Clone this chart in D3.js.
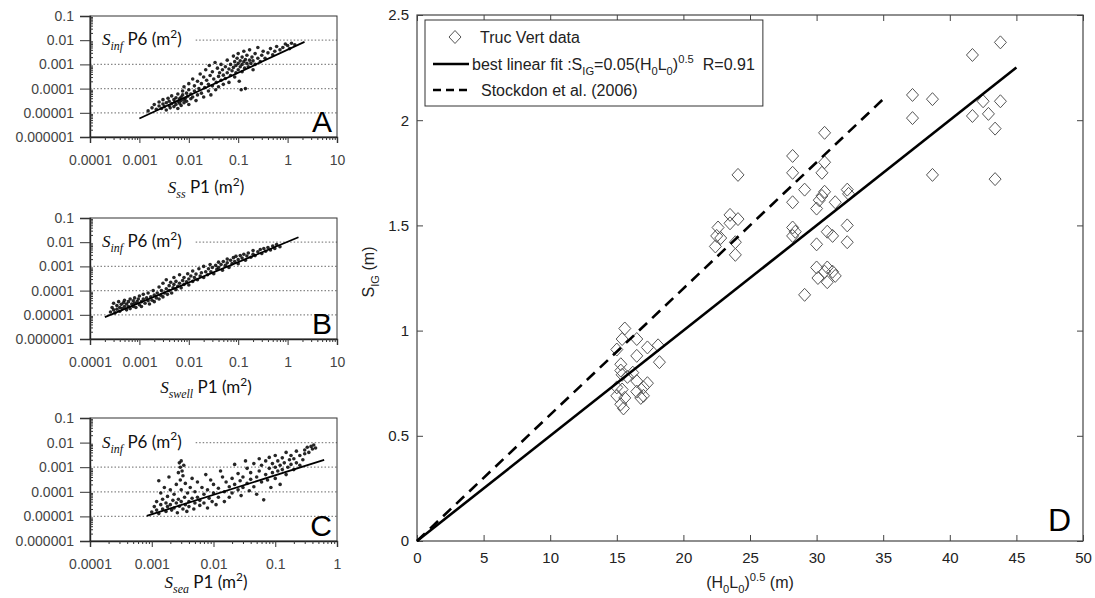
<!DOCTYPE html>
<meta charset="utf-8">
<style>
body { margin: 0; background: #fff; }
svg { display: block; font-family: "Liberation Sans", Arial, sans-serif; }
.small .tick text { font-size: 14px; fill: #444; }
.small .domain { stroke: #222; }
.small .tick line { stroke: #333; }
.big .tick text { font-size: 15px; fill: #222; }
.big .domain { display: none; }
.big .tick line { stroke: #444; }
</style>
<svg id="fig" width="1095" height="598"></svg>

<script src="https://d3js.org/d3.v7.min.js"></script>
<script>
// ********** DATA **********

// panel A : S_inf P6 against S_ss P1 (m2)
var ssPoints = [
  [0.0015,1.2e-5],[0.0018,1.6e-5],[0.002,2.2e-5],[0.0022,1.4e-5],[0.0025,1.9e-5],[0.0025,2.8e-5],[0.0028,1.5e-5],
  [0.003,2.3e-5],[0.003,3.5e-5],[0.0032,1.8e-5],[0.0035,2.6e-5],[0.0035,1.3e-5],[0.0038,4e-5],[0.004,2e-5],
  [0.004,3e-5],[0.0042,1.6e-5],[0.0045,2.4e-5],[0.0045,5e-5],[0.005,3.5e-5],[0.005,1.8e-5],[0.0052,2.8e-5],
  [0.0055,4.2e-5],[0.0055,2.2e-5],[0.006,3e-5],[0.006,6e-5],[0.006,1.5e-5],[0.0065,3.8e-5],[0.0065,2.5e-5],
  [0.007,4.5e-5],[0.007,3.2e-5],[0.007,2e-5],[0.0075,8e-5],[0.0075,5.5e-5],[0.008,3.5e-5],[0.008,2.6e-5],
  [0.008,1.2e-4],[0.0085,4e-5],[0.009,6.5e-5],[0.009,3e-5],[0.0095,4.8e-5],[0.01,2.2e-5],[0.01,9e-5],
  [0.01,1.6e-4],[0.011,3.8e-5],[0.011,6e-5],[0.012,4.5e-5],[0.012,2.5e-4],[0.013,8e-5],[0.013,1.3e-4],
  [0.014,3.2e-5],[0.015,5.5e-5],[0.015,2e-4],[0.016,1e-4],[0.017,4e-4],[0.018,6.5e-5],[0.018,1.6e-4],
  [0.02,3e-4],[0.02,4.5e-5],[0.021,1.1e-4],[0.022,6e-4],[0.023,2.2e-4],[0.025,8e-5],[0.025,1.5e-4],
  [0.026,9e-4],[0.027,3.5e-4],[0.028,5.5e-5],[0.03,1.3e-4],[0.03,5e-4],[0.032,2.5e-4],[0.034,1.2e-3],
  [0.035,9e-5],[0.036,1.8e-4],[0.038,7e-4],[0.04,3.2e-4],[0.04,1.2e-4],[0.042,4.5e-4],[0.045,2.2e-4],
  [0.045,1e-3],[0.048,6e-4],[0.05,1.5e-4],[0.05,3.6e-4],[0.055,8e-4],[0.055,2.6e-4],[0.06,4.5e-4],
  [0.06,1.5e-3],[0.065,6.5e-4],[0.065,1.8e-4],[0.07,3.5e-4],[0.07,1e-3],[0.075,5.5e-4],[0.08,2.2e-3],
  [0.08,7.5e-4],[0.085,1.3e-3],[0.085,3e-4],[0.09,9e-4],[0.09,4.5e-4],[0.095,1.8e-3],[0.1,6e-4],
  [0.1,1.1e-3],[0.1,2.8e-3],[0.105,2e-4],[0.11,1.4e-3],[0.11,8e-4],[0.115,9e-5],[0.12,1e-3],[0.12,2e-3],
  [0.12,5e-4],[0.13,1.3e-3],[0.13,3.5e-3],[0.135,7e-4],[0.14,1.6e-3],[0.14,1e-4],[0.15,1.1e-3],
  [0.15,2.4e-3],[0.16,8e-4],[0.17,1.5e-3],[0.17,4e-3],[0.18,1.1e-3],[0.19,2e-3],[0.2,6e-4],[0.2,1.4e-3],
  [0.22,2.8e-3],[0.22,1e-3],[0.25,1.8e-3],[0.25,5e-3],[0.28,1.3e-3],[0.3,2.4e-3],[0.32,3.5e-3],
  [0.35,1.8e-3],[0.4,3e-3],[0.45,4.5e-3],[0.5,2.5e-3],[0.55,3.5e-3],[0.6,5.5e-3],[0.7,4e-3],[0.8,5e-3],
  [0.9,7e-3],[1,6e-3],[1.1,4.5e-3],[1.2,7.5e-3],[1.4,6.5e-3]
];
var ssFit = [[0.001,5.8e-6],[2.2,8.5e-3]];

// panel B : S_inf P6 against S_swell P1 (m2)
var swellPoints = [
  [2.6e-4,1.3e-5],[2.8e-4,2e-5],[3e-4,1.6e-5],[3e-4,3e-5],[3.2e-4,1.2e-5],[3.5e-4,2.4e-5],[3.5e-4,1.7e-5],
  [3.8e-4,3.5e-5],[4e-4,2e-5],[4e-4,1.4e-5],[4.3e-4,2.7e-5],[4.5e-4,1.8e-5],[4.8e-4,3.2e-5],[5e-4,2.2e-5],
  [5e-4,4e-5],[5.5e-4,1.6e-5],[5.5e-4,2.8e-5],[6e-4,3.5e-5],[6e-4,2.2e-5],[6.5e-4,4.5e-5],[6.5e-4,1.8e-5],
  [7e-4,2.8e-5],[7.5e-4,3.8e-5],[7.5e-4,2.2e-5],[8e-4,5e-5],[8e-4,3e-5],[8.5e-4,2e-5],[9e-4,3.5e-5],
  [9.5e-4,4.5e-5],[1e-3,2.6e-5],[1e-3,6e-5],[1.1e-3,3.5e-5],[1.1e-3,2.2e-5],[1.2e-3,4.5e-5],[1.2e-3,7e-5],
  [1.3e-3,3e-5],[1.4e-3,5e-5],[1.5e-3,3.8e-5],[1.5e-3,8e-5],[1.6e-3,2.8e-5],[1.7e-3,5.5e-5],[1.8e-3,4e-5],
  [1.9e-3,1e-4],[2e-3,6.5e-5],[2e-3,3.5e-5],[2.2e-3,5e-5],[2.3e-3,8e-5],[2.5e-3,1.4e-4],[2.5e-3,4.5e-5],
  [2.7e-3,6.5e-5],[2.8e-3,1e-4],[3e-3,2e-4],[3e-3,5.5e-5],[3.2e-3,8e-5],[3.5e-3,1.2e-4],[3.5e-3,2.8e-4],
  [3.7e-3,7e-5],[4e-3,1e-4],[4e-3,1.6e-4],[4.3e-3,2.2e-4],[4.5e-3,8e-5],[4.8e-3,1.3e-4],[5e-3,3.5e-4],
  [5e-3,1.8e-4],[5.5e-3,1.1e-4],[5.5e-3,2.4e-4],[6e-3,1.5e-4],[6.5e-3,2e-4],[6.5e-3,4.5e-4],[7e-3,1.3e-4],
  [7.5e-3,2.6e-4],[8e-3,1.8e-4],[8e-3,3.5e-4],[9e-3,2.3e-4],[9.5e-3,5e-4],[0.01,1.7e-4],[0.01,3e-4],
  [0.011,4e-4],[0.012,2.4e-4],[0.012,6.5e-4],[0.013,3.5e-4],[0.014,4.8e-4],[0.015,2.8e-4],[0.016,8e-4],
  [0.017,4e-4],[0.018,5.5e-4],[0.02,3.5e-4],[0.02,1e-3],[0.022,6e-4],[0.024,4.5e-4],[0.025,8e-4],
  [0.027,1.2e-3],[0.028,6e-4],[0.03,9e-4],[0.032,5e-4],[0.035,1.1e-3],[0.037,7.5e-4],[0.04,1.5e-3],
  [0.04,9e-4],[0.045,1.2e-3],[0.048,7e-4],[0.05,1.6e-3],[0.055,1.1e-3],[0.06,2e-3],[0.06,1.4e-3],
  [0.065,9e-4],[0.07,1.8e-3],[0.075,1.3e-3],[0.08,2.3e-3],[0.085,1.6e-3],[0.09,2.6e-3],[0.1,1.9e-3],
  [0.1,1.3e-3],[0.11,2.8e-3],[0.12,2.2e-3],[0.13,3.2e-3],[0.14,1.8e-3],[0.15,2.7e-3],[0.16,3.6e-3],
  [0.18,2.4e-3],[0.2,3.2e-3],[0.2,4.5e-3],[0.22,2.8e-3],[0.25,4e-3],[0.28,5e-3],[0.3,3.4e-3],
  [0.33,5.5e-3],[0.36,4.2e-3],[0.4,6e-3],[0.45,4.8e-3],[0.5,7e-3],[0.55,5.5e-3],[0.6,8e-3],[0.7,6.5e-3]
];
var swellFit = [[2e-4,8e-6],[1.66,0.016]];

// panel C : S_inf P6 against S_sea P1 (m2)
var seaPoints = [
  [1e-3,1.5e-5],[1.1e-3,2.5e-5],[1.2e-3,1.8e-5],[1.2e-3,4e-5],[1.3e-3,1.3e-5],[1.3e-3,2.8e-4],[1.4e-3,3e-5],
  [1.4e-3,9e-5],[1.5e-3,2e-5],[1.5e-3,5e-5],[1.6e-3,1.5e-4],[1.7e-3,3.5e-5],[1.7e-3,1.6e-5],[1.8e-3,2.5e-5],
  [1.8e-3,6.5e-5],[1.9e-3,4e-4],[2e-3,3e-5],[2e-3,1.2e-4],[2.1e-3,1.8e-5],[2.2e-3,4.5e-5],[2.3e-3,2.2e-5],
  [2.3e-3,8e-5],[2.5e-3,3.5e-5],[2.5e-3,2e-4],[2.6e-3,1.4e-5],[2.7e-3,6e-4],[2.7e-3,5e-5],[2.8e-3,1.5e-3],
  [2.8e-3,2.6e-5],[2.9e-3,1e-3],[2.9e-3,3e-4],[3e-3,1.8e-3],[3e-3,4e-5],[3e-3,1.2e-4],[3.1e-3,7e-4],
  [3.2e-3,2e-5],[3.2e-3,4.5e-4],[3.3e-3,1.2e-3],[3.4e-3,6e-5],[3.5e-3,3e-5],[3.5e-3,2.2e-4],[3.7e-3,1.6e-5],
  [3.8e-3,9e-5],[4e-3,4e-5],[4e-3,2.5e-5],[4.2e-3,1.5e-4],[4.5e-3,5.5e-5],[4.5e-3,3.5e-4],[4.8e-3,2e-5],
  [5e-3,3.5e-5],[5e-3,1e-4],[5.5e-3,6e-5],[5.5e-3,2.5e-4],[6e-3,2.8e-5],[6e-3,4.5e-5],[6.5e-3,1.5e-4],
  [7e-3,3.5e-5],[7e-3,8e-5],[7.5e-3,5e-4],[8e-3,2.2e-5],[8e-3,1.2e-4],[8.5e-3,5.5e-5],[9e-3,3e-4],
  [9.5e-3,4e-5],[0.01,9e-5],[0.01,2e-4],[0.011,3e-5],[0.012,1.4e-4],[0.012,6e-5],[0.013,7e-4],[0.014,4e-4],
  [0.015,1e-4],[0.015,4e-5],[0.016,2.5e-4],[0.018,1.6e-4],[0.018,6e-5],[0.02,3.5e-4],[0.02,9e-5],
  [0.022,1.3e-3],[0.022,2e-4],[0.025,5.5e-4],[0.025,1.2e-4],[0.027,2.8e-4],[0.028,7e-5],[0.03,1.5e-4],
  [0.03,4e-4],[0.033,1.8e-3],[0.035,2.2e-4],[0.035,9e-4],[0.038,1.1e-4],[0.04,3.2e-4],[0.04,6e-4],
  [0.045,1.6e-4],[0.045,1.4e-3],[0.05,4e-4],[0.05,8e-5],[0.055,2.2e-3],[0.055,7e-4],[0.06,2.5e-4],
  [0.06,1.2e-3],[0.065,4.7e-5],[0.07,5e-4],[0.07,1.8e-3],[0.075,3e-4],[0.08,9e-4],[0.08,2.5e-3],
  [0.085,1.5e-4],[0.09,6e-4],[0.09,1.4e-3],[0.1,1e-3],[0.1,3e-3],[0.1,3.5e-4],[0.11,1.8e-3],[0.11,7e-4],
  [0.12,1.2e-3],[0.12,2e-4],[0.13,2.4e-3],[0.13,8e-4],[0.14,1.5e-3],[0.15,4e-3],[0.15,5e-4],[0.16,1e-3],
  [0.17,2e-3],[0.18,1.3e-3],[0.18,3e-3],[0.2,8e-4],[0.2,2.2e-3],[0.22,1.5e-3],[0.22,4.5e-3],[0.25,3e-3],
  [0.25,1.2e-3],[0.28,2e-3],[0.3,5e-3],[0.3,3.5e-3],[0.33,6.5e-3],[0.35,4e-3],[0.38,7e-3],[0.4,5.5e-3],
  [0.42,8e-3],[0.45,6e-3]
];
var seaFit = [[8.3e-4,1.05e-5],[0.62,0.002]];

// log axes of the small panels
var smallYTicks = [1e-6, 1e-5, 1e-4, 1e-3, 1e-2, 1e-1];
var smallYLabels = ["0.000001", "0.00001", "0.0001", "0.001", "0.01", "0.1"];
var smallGrid = [1e-5, 1e-4, 1e-3, 1e-2];
var abXTicks = [1e-4, 1e-3, 1e-2, 1e-1, 1, 10];
var abXLabels = ["0.0001", "0.001", "0.01", "0.1", "1", "10"];
var cXTicks = [1e-4, 1e-3, 1e-2, 1e-1, 1];
var cXLabels = ["0.0001", "0.001", "0.01", "0.1", "1"];

// panel D : Truc Vert data, S_IG (m) against (H0L0)^0.5 (m)
var trucVert = [
  [15.0,0.91],[15.3,0.84],[15.3,0.81],[15.4,0.96],[15.6,1.01],[15.4,0.79],[15.8,0.78],[15.0,0.73],
  [15.0,0.69],[15.4,0.72],[15.6,0.68],[15.3,0.65],[15.5,0.63],[16.5,0.96],[16.5,0.88],[17.3,0.92],
  [18.1,0.93],[18.2,0.85],[16.5,0.76],[17.0,0.73],[16.5,0.71],[17.3,0.75],[17.0,0.69],[16.8,0.68],
  [16.2,0.80],
  [22.4,1.40],[22.5,1.45],[22.6,1.49],[23.5,1.55],[23.5,1.51],[24.1,1.53],[23.9,1.42],[23.9,1.36],
  [24.1,1.74],[22.8,1.44],
  [28.2,1.83],[28.2,1.75],[28.2,1.61],[28.2,1.49],[28.2,1.45],[28.4,1.47],[29.1,1.67],[29.1,1.17],
  [30.0,1.41],[30.4,1.75],[30.6,1.80],[30.6,1.94],[30.4,1.64],[30.6,1.66],[30.2,1.62],[30.0,1.58],
  [31.4,1.61],[32.3,1.67],[32.4,1.65],[32.3,1.50],[32.3,1.42],[30.8,1.47],[31.2,1.45],[30.0,1.30],
  [30.8,1.30],[30.1,1.25],[30.8,1.23],[31.2,1.28],[31.4,1.26],[30.6,1.28],
  [37.2,2.12],[37.2,2.01],[38.7,2.10],[38.7,1.74],[41.7,2.31],[41.7,2.02],[42.5,2.09],[42.9,2.03],
  [43.4,1.96],[43.4,1.72],[43.8,2.09],[43.8,2.37]
];
var bestFit = [[0, 0], [45, 2.25]];
var stockdon = [[0, 0], [35, 2.1]];
var dXTicks = [0, 5, 10, 15, 20, 25, 30, 35, 40, 45, 50];
var dYTicks = [0, 0.5, 1, 1.5, 2, 2.5];
var dYLabels = ["0", "0.5", "1", "1.5", "2", "2.5"];

// ********** HELPERS **********
var svg = d3.select("#fig");

// text with sub / superscripts: parts = [{t, sub, sup, it, ff}]
function richText(sel, parts, size) {
  var shift = 0;
  parts.forEach(function (p) {
    var target = p.sub ? size * 0.3 : (p.sup ? -size * 0.42 : 0);
    var ts = sel.append("tspan")
      .attr("dy", target - shift)
      .attr("font-size", (p.sub || p.sup) ? size * 0.7 : size)
      .text(p.t);
    if (p.it) ts.attr("font-style", "italic");
    if (p.ff) ts.attr("font-family", p.ff);
    if (p.dx) ts.attr("dx", p.dx);
    shift = target;
  });
  return sel;
}

var serif = "'Liberation Serif', serif", humanist = "Lato, 'Open Sans', sans-serif";

// ********** SMALL LOG PANELS **********
var smallPanels = [
  { letter: "A", pts: ssPoints, fit: ssFit, top: 16, bottom: 137, titleY: 193, xTicks: abXTicks, xLabels: abXLabels, sub: "ss" },
  { letter: "B", pts: swellPoints, fit: swellFit, top: 218, bottom: 339, titleY: 393, xTicks: abXTicks, xLabels: abXLabels, sub: "swell" },
  { letter: "C", pts: seaPoints, fit: seaFit, top: 418, bottom: 541, titleY: 588, xTicks: cXTicks, xLabels: cXLabels, sub: "sea" }
];
var pLeft = 90, pRight = 337;

smallPanels.forEach(function (p) {
  var g = svg.append("g").attr("class", "small");
  var x = d3.scaleLog().domain([p.xTicks[0], p.xTicks[p.xTicks.length - 1]]).range([pLeft, pRight]);
  var y = d3.scaleLog().domain([1e-6, 0.1]).range([p.bottom, p.top]);

  // inner title, drawn first to measure where the 0.01 gridline can start
  var title = g.append("text").attr("x", 102).attr("y", y(0.01) + 5).attr("fill", "#111");
  richText(title, [
    { t: "S", it: true, ff: serif },
    { t: "inf", sub: true, it: true, ff: serif },
    { t: " P6 (m", ff: humanist },
    { t: "2", sup: true, ff: humanist },
    { t: ")", ff: humanist }
  ], 17);
  var tEnd = title.node().getBBox();
  tEnd = tEnd.x + tEnd.width + 14;

  // dotted gridlines
  g.selectAll("line.grid").data(smallGrid).enter().append("line")
    .attr("x1", function (d) { return d == 1e-2 ? tEnd : pLeft; })
    .attr("x2", pRight)
    .attr("y1", function (d) { return y(d); }).attr("y2", function (d) { return y(d); })
    .attr("stroke", "#888").attr("stroke-width", 1.2).attr("stroke-dasharray", "1.5,2");

  // scatter
  g.selectAll("circle").data(p.pts).enter().append("circle")
    .attr("cx", function (d) { return x(d[0]); })
    .attr("cy", function (d) { return y(d[1]); })
    .attr("r", 1.8).attr("fill", "#000").attr("opacity", 0.85);

  // fit
  g.append("path").datum(p.fit)
    .attr("d", d3.line().x(function (d) { return x(d[0]); }).y(function (d) { return y(d[1]); }))
    .attr("stroke", "#000").attr("stroke-width", 1.8).attr("fill", "none");

  // frame
  g.append("rect").attr("x", pLeft).attr("y", p.top)
    .attr("width", pRight - pLeft).attr("height", p.bottom - p.top)
    .attr("fill", "none").attr("stroke", "#333").attr("stroke-width", 1);

  // y axis
  g.append("g").attr("transform", "translate(" + pLeft + ",0)")
    .call(d3.axisLeft(y).tickValues(smallYTicks).tickSize(10).tickPadding(6)
      .tickFormat(function (d, i) { return smallYLabels[i]; }));
  g.append("g").attr("transform", "translate(" + pLeft + ",0)")
    .call(d3.axisLeft(y).tickValues(y.ticks().filter(function (v) { return smallYTicks.indexOf(v) < 0; }))
      .tickSize(-3).tickFormat(""))
    .select(".domain").remove();

  // x axis
  g.append("g").attr("transform", "translate(0," + p.bottom + ")")
    .call(d3.axisBottom(x).tickValues(p.xTicks).tickSize(6).tickPadding(12)
      .tickFormat(function (d, i) { return p.xLabels[i]; }));
  g.append("g").attr("transform", "translate(0," + p.bottom + ")")
    .call(d3.axisBottom(x).tickValues(x.ticks().filter(function (v) { return p.xTicks.indexOf(v) < 0; }))
      .tickSize(3).tickFormat(""))
    .select(".domain").remove();
  g.selectAll(".domain").attr("stroke-width", 1.4);

  // x axis title
  var xt = g.append("text").attr("x", 206).attr("y", p.titleY)
    .attr("text-anchor", "middle").attr("fill", "#111");
  richText(xt, [
    { t: "S", it: true, ff: serif },
    { t: p.sub, sub: true, it: true, ff: serif },
    { t: " P1 (m", ff: humanist },
    { t: "2", sup: true, ff: humanist },
    { t: ")", ff: humanist }
  ], 17);

  // panel letter
  g.append("text").attr("x", 332).attr("y", p.bottom - 5)
    .attr("text-anchor", "end").attr("font-size", 30).attr("fill", "#000").text(p.letter);
});

// ********** PANEL D **********
var dL = 417, dR = 1083, dT = 15, dB = 541;
var xD = d3.scaleLinear().domain([0, 50]).range([dL, dR]);
var yD = d3.scaleLinear().domain([0, 2.5]).range([dB, dT]);
var gD = svg.append("g").attr("class", "big");

gD.append("g").attr("transform", "translate(0," + dB + ")")
  .call(d3.axisBottom(xD).tickValues(dXTicks).tickSize(-6).tickPadding(11));
gD.append("g").attr("transform", "translate(0," + dT + ")")
  .call(d3.axisTop(xD).tickValues(dXTicks).tickSize(-6).tickFormat(""));
gD.append("g").attr("transform", "translate(" + dL + ",0)")
  .call(d3.axisLeft(yD).tickValues(dYTicks).tickSize(-6).tickPadding(8)
    .tickFormat(function (d, i) { return dYLabels[i]; }));
gD.append("g").attr("transform", "translate(" + dR + ",0)")
  .call(d3.axisRight(yD).tickValues(dYTicks).tickSize(-6).tickFormat(""));
gD.selectAll(".tick text").attr("font-family", "'Liberation Sans', Arial, sans-serif");

gD.append("rect").attr("x", dL).attr("y", dT).attr("width", dR - dL).attr("height", dB - dT)
  .attr("fill", "none").attr("stroke", "#444").attr("stroke-width", 1.2);

var lineD = d3.line().x(function (d) { return xD(d[0]); }).y(function (d) { return yD(d[1]); });
var diamond = "M0,-6.5L6,0L0,6.5L-6,0Z";

gD.selectAll("path.pt").data(trucVert).enter().append("path")
  .attr("class", "pt")
  .attr("transform", function (d) { return "translate(" + xD(d[0]) + "," + yD(d[1]) + ")"; })
  .attr("d", diamond).attr("fill", "none").attr("stroke", "#555").attr("stroke-width", 1);

gD.append("path").datum(stockdon).attr("d", lineD)
  .attr("stroke", "#000").attr("stroke-width", 2.6).attr("stroke-dasharray", "11,7").attr("fill", "none");
gD.append("path").datum(bestFit).attr("d", lineD)
  .attr("stroke", "#000").attr("stroke-width", 2.6).attr("fill", "none");

// axis titles
var yTitle = gD.append("text").attr("transform", "translate(374,272)rotate(-90)")
  .attr("text-anchor", "middle").attr("fill", "#222");
richText(yTitle, [{ t: "S" }, { t: "IG", sub: true }, { t: " (m)" }], 16);

var xTitle = gD.append("text").attr("x", (dL + dR) / 2).attr("y", 588)
  .attr("text-anchor", "middle").attr("fill", "#222");
richText(xTitle, [{ t: "(H" }, { t: "0", sub: true }, { t: "L" }, { t: "0", sub: true }, { t: ")" },
  { t: "0.5", sup: true }, { t: " (m)" }], 16);

gD.append("text").attr("x", 1071).attr("y", 531).attr("text-anchor", "end")
  .attr("font-size", 32).attr("fill", "#000").text("D");

// legend
var leg = gD.append("g");
var legBox = leg.append("rect").attr("x", 425).attr("y", 20).attr("height", 86)
  .attr("fill", "#fff").attr("stroke", "#333").attr("stroke-width", 1);
leg.append("path").attr("transform", "translate(455,37)").attr("d", diamond)
  .attr("fill", "none").attr("stroke", "#555");
leg.append("line").attr("x1", 433).attr("x2", 469).attr("y1", 64).attr("y2", 64)
  .attr("stroke", "#000").attr("stroke-width", 2.6);
leg.append("line").attr("x1", 433).attr("x2", 469).attr("y1", 90).attr("y2", 90)
  .attr("stroke", "#000").attr("stroke-width", 2.6).attr("stroke-dasharray", "8,5");
leg.append("text").attr("x", 480).attr("y", 43).attr("font-size", 16).attr("fill", "#222").text("Truc Vert data");
var fitLabel = leg.append("text").attr("x", 472).attr("y", 70).attr("fill", "#222");
richText(fitLabel, [
  { t: "best linear fit :S" }, { t: "IG", sub: true }, { t: "=0.05(H" }, { t: "0", sub: true },
  { t: "L" }, { t: "0", sub: true }, { t: ")" }, { t: "0.5", sup: true }, { t: "R=0.91", dx: 9 }
], 16);
leg.append("text").attr("x", 481).attr("y", 96).attr("font-size", 16).attr("fill", "#222").text("Stockdon et al. (2006)");
var fb = fitLabel.node().getBBox();
legBox.attr("width", fb.x + fb.width + 8 - 425);
</script>
